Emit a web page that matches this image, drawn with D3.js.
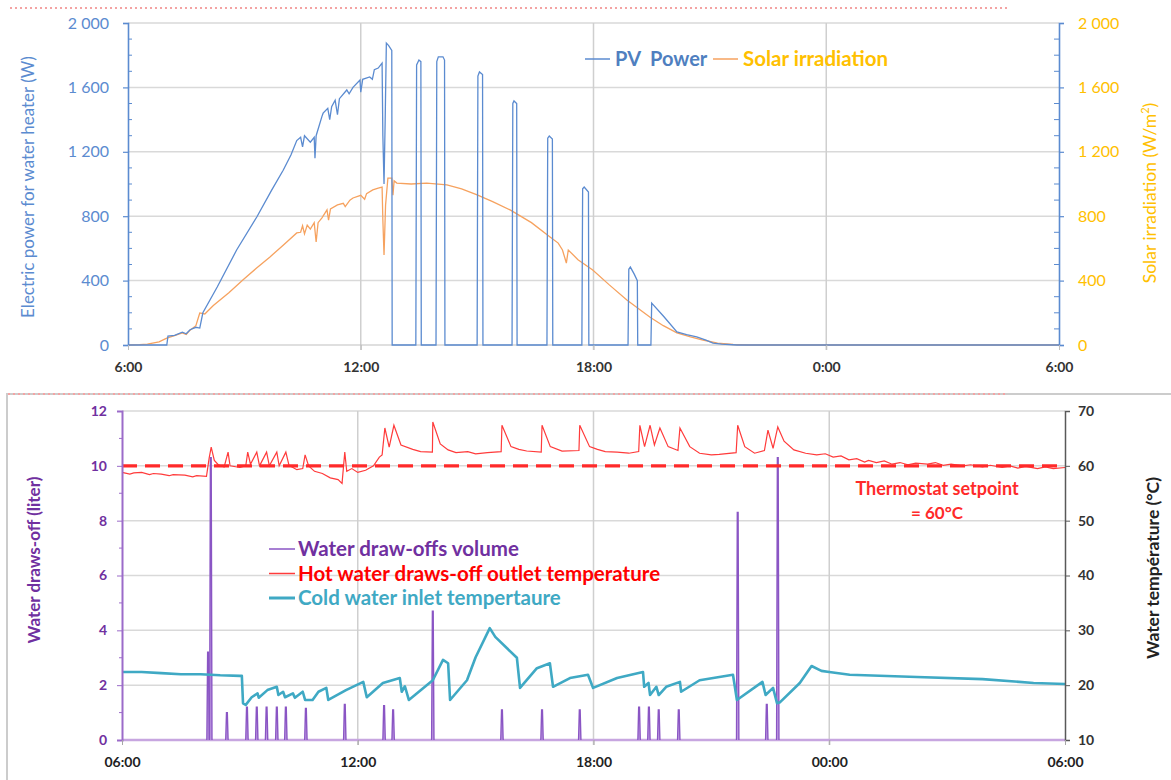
<!DOCTYPE html>
<html>
<head>
<meta charset="utf-8">
<script src="https://cdn.jsdelivr.net/npm/d3@7"></script>
<style>
  body { margin: 0; background: #fff; }
  svg { font-family: Lato, "Liberation Sans", sans-serif; }
</style>
</head>
<body>
<div id="canvas"></div>
<script>
// ---- data (hours from 6:00, next day runs past 24) ----
const pvPower = [
  [6, 0], [7.0, 0], [7.03, 55], [7.2, 60], [7.4, 80], [7.5, 70], [7.6, 95], [7.75, 110], [7.85, 105],
  [7.93, 200], [8.3, 360], [8.8, 590], [9.32, 795], [9.7, 960], [10.0, 1085], [10.2, 1180], [10.35, 1270],
  [10.45, 1290], [10.5, 1230], [10.55, 1300], [10.7, 1260], [10.8, 1290], [10.82, 1160], [10.85, 1300],
  [11.0, 1420], [11.03, 1440], [11.15, 1470], [11.2, 1400], [11.25, 1480], [11.34, 1520], [11.4, 1430],
  [11.45, 1530], [11.64, 1584], [11.7, 1560], [11.8, 1600], [11.98, 1646], [12.0, 1570], [12.05, 1650],
  [12.23, 1665], [12.3, 1650], [12.35, 1710], [12.45, 1720], [12.55, 1751], [12.57, 1300], [12.6, 1000],
  [12.63, 1400], [12.66, 1875], [12.72, 1860], [12.8, 1830], [12.81, 0],
  [13.42, 0], [13.44, 1740], [13.5, 1770], [13.55, 1760], [13.56, 0],
  [13.94, 0], [13.96, 1760], [14.0, 1790], [14.12, 1790], [14.16, 1770], [14.17, 0],
  [15.0, 0], [15.02, 1670], [15.06, 1696], [15.14, 1680], [15.15, 0],
  [15.9, 0], [15.92, 1500], [15.95, 1516], [16.02, 1500], [16.03, 0],
  [16.8, 0], [16.82, 1285], [16.86, 1298], [16.94, 1280], [16.95, 0],
  [17.7, 0], [17.72, 970], [17.76, 981], [17.87, 950], [17.88, 0],
  [18.89, 0], [18.91, 470], [18.95, 484], [19.05, 440], [19.13, 400], [19.14, 0],
  [19.48, 0], [19.5, 260], [19.8, 180], [20.15, 81], [20.4, 65], [20.66, 50], [20.9, 30],
  [21.08, 12], [21.3, 5], [21.7, 0], [30, 0]
];

const solarIrradiation = [
  [6, 0], [6.3, 2], [6.5, 6], [6.8, 20], [7.0, 43], [7.2, 58], [7.4, 75], [7.5, 65], [7.6, 92],
  [7.75, 120], [7.85, 199], [7.98, 193], [8.2, 245], [8.6, 325], [8.96, 404], [9.3, 475], [9.66, 547],
  [10.0, 620], [10.35, 696], [10.45, 700], [10.5, 740], [10.55, 690], [10.62, 745], [10.7, 720],
  [10.8, 760], [10.85, 640], [10.9, 760], [11.0, 790], [11.13, 839], [11.17, 776], [11.22, 845],
  [11.4, 870], [11.55, 880], [11.6, 860], [11.72, 900], [11.8, 913], [12.0, 930], [12.1, 905],
  [12.15, 940], [12.31, 963], [12.45, 975], [12.55, 981], [12.57, 776], [12.6, 559], [12.64, 870],
  [12.7, 1037], [12.8, 1037], [12.83, 930], [12.86, 1020], [12.93, 1006], [13.3, 1000], [13.7, 1006],
  [14.22, 994], [14.6, 970], [15.0, 932], [15.4, 890], [15.85, 839], [16.4, 760], [16.88, 671],
  [17.09, 633], [17.2, 590], [17.3, 509], [17.35, 590], [17.6, 530], [17.98, 466], [18.4, 375],
  [18.86, 280], [19.45, 174], [19.8, 120], [20.15, 75], [20.5, 50], [20.82, 31], [21.2, 12],
  [21.6, 3], [22, 0], [30, 0]
];

const drawOffVolume = [
  [8.19, 3.2], [8.26, 10.3], [8.67, 1.0], [9.18, 1.2], [9.43, 1.2], [9.68, 1.2], [9.94, 1.2],
  [10.17, 1.2], [10.68, 1.15], [11.67, 1.3], [12.67, 1.25], [12.9, 1.1], [13.91, 4.7], [15.67, 1.1],
  [16.69, 1.1], [17.65, 1.1], [19.16, 1.2], [19.41, 1.2], [19.66, 1.1], [20.17, 1.1], [21.67, 8.3],
  [22.41, 1.3], [22.69, 10.3]
];

const hotWaterTemp = [
  [6, 58.8], [6.2, 58.5], [6.3, 58.7], [6.5, 58.8], [6.7, 58.4], [6.8, 58.6], [7.0, 58.5], [7.2, 58.2],
  [7.3, 58.4], [7.6, 58.3], [7.8, 58.0], [7.9, 58.2], [8.15, 58.1], [8.22, 61.5], [8.27, 63.4],
  [8.35, 61.0], [8.45, 60.2], [8.6, 59.8], [8.7, 62.5], [8.75, 60.0], [9.0, 59.7], [9.15, 60.0],
  [9.2, 62.5], [9.27, 60.3], [9.43, 62.5], [9.5, 60.0], [9.68, 62.5], [9.75, 60.0], [9.94, 62.5],
  [10.0, 60.0], [10.17, 62.5], [10.25, 60.1], [10.45, 59.3], [10.6, 59.5], [10.66, 62.0], [10.75, 60.0],
  [10.9, 59.0], [11.1, 58.6], [11.3, 57.8], [11.5, 57.5], [11.6, 56.8], [11.67, 62.5], [11.72, 59.0],
  [11.85, 59.5], [12.0, 58.8], [12.2, 59.2], [12.4, 60.0], [12.55, 61.6], [12.62, 62.0], [12.69, 66.9],
  [12.8, 63.4], [12.92, 67.4], [13.1, 63.8], [13.4, 63.0], [13.6, 62.6], [13.9, 62.5], [13.91, 68.0],
  [14.1, 64.0], [14.3, 62.9], [14.5, 62.4], [14.8, 62.6], [15.0, 62.2], [15.3, 62.4], [15.65, 62.6],
  [15.67, 67.4], [15.9, 63.5], [16.1, 63.0], [16.3, 62.7], [16.67, 62.5], [16.69, 67.4], [16.9, 63.5],
  [17.2, 62.7], [17.63, 62.8], [17.65, 67.4], [17.9, 63.5], [18.1, 63.0], [18.3, 62.6], [18.6, 62.5],
  [18.9, 62.3], [19.15, 62.6], [19.18, 67.4], [19.3, 63.5], [19.44, 67.4], [19.55, 63.8], [19.69, 66.9],
  [19.9, 63.5], [20.15, 62.8], [20.2, 66.9], [20.45, 63.5], [20.7, 62.3], [21.0, 62.0], [21.2, 62.1],
  [21.63, 62.4], [21.67, 67.4], [21.85, 63.5], [22.1, 62.3], [22.35, 62.8], [22.44, 66.5], [22.57, 63.2],
  [22.69, 67.1], [22.85, 64.5], [23.1, 62.9], [23.4, 62.3], [23.68, 62.0], [23.9, 62.2], [24.1, 61.6],
  [24.3, 61.8], [24.5, 61.1], [24.7, 61.3], [24.9, 60.7], [25.0, 61.0], [25.2, 60.6], [25.4, 60.9],
  [25.6, 60.3], [25.8, 60.6], [26.0, 60.2], [26.2, 60.5], [26.5, 60.3], [26.7, 60.6], [26.9, 60.1],
  [27.1, 60.3], [27.4, 60.0], [27.6, 60.2], [27.9, 59.8], [28.1, 60.1], [28.4, 59.7], [28.6, 60.0],
  [28.8, 59.6], [29.0, 59.9], [29.3, 59.5], [29.5, 59.8], [29.7, 59.5], [30, 59.7]
];

const coldWaterTemp = [
  [6, 22.4], [6.5, 22.4], [7.0, 22.2], [7.5, 22.0], [8.0, 22.0], [8.5, 21.8], [9.0, 21.7], [9.05, 21.7],
  [9.08, 16.7], [9.15, 16.4], [9.3, 17.8], [9.45, 18.5], [9.48, 17.7], [9.7, 19.1], [9.94, 19.7],
  [9.98, 18.2], [10.1, 18.8], [10.15, 17.8], [10.35, 18.5], [10.4, 17.7], [10.6, 18.8], [10.66, 17.3],
  [10.85, 17.3], [11.0, 18.8], [11.2, 19.5], [11.25, 17.3], [11.7, 19.1], [12.14, 20.6], [12.23, 17.8],
  [12.64, 20.4], [13.07, 21.3], [13.12, 18.8], [13.2, 19.8], [13.3, 17.3], [13.91, 20.9], [14.17, 24.6],
  [14.3, 24.0], [14.35, 17.3], [14.78, 20.9], [15.0, 25.1], [15.36, 30.4], [15.5, 28.8], [16.05, 25.0],
  [16.13, 19.5], [16.56, 23.1], [16.89, 24.0], [16.97, 19.7], [17.4, 21.3], [17.86, 21.9], [17.99, 19.5],
  [18.6, 21.3], [19.26, 22.4], [19.29, 19.7], [19.4, 20.4], [19.44, 18.2], [19.6, 19.7], [19.66, 18.2],
  [19.85, 19.7], [20.2, 20.6], [20.23, 18.8], [20.7, 20.9], [21.55, 21.9], [21.65, 17.3], [22.3, 20.6],
  [22.38, 18.2], [22.57, 19.5], [22.67, 16.7], [22.75, 16.9], [23.25, 20.4], [23.55, 23.5], [23.8, 22.6],
  [24.0, 22.4], [24.52, 21.9], [26.23, 21.5], [27.9, 21.1], [29.2, 20.4], [30, 20.2]
];

const thermostatSetpoint = 60;
const timeTicks = [6, 12, 18, 24, 30];
const topTimeLabels = ["6:00", "12:00", "18:00", "0:00", "6:00"];
const bottomTimeLabels = ["06:00", "12:00", "18:00", "00:00", "06:00"];
const powerTicks = [0, 400, 800, 1200, 1600, 2000];
const volumeTicks = [0, 2, 4, 6, 8, 10, 12];
const tempTicks = [10, 20, 30, 40, 50, 60, 70];

// ---- colours ----
const blue = "#5B8BD0";
const orange = "#F6A25F";
const gold = "#FFC000";
const purple = "#7030A0";
const red = "#FF2A2A";
const teal = "#3FA9C4";
const grid = "#D9D9D9";

const svg = d3.select("#canvas").append("svg").attr("width", 1171).attr("height", 780);

const spaced = d3.formatLocale({ decimal: ".", thousands: " ", grouping: [3], currency: ["", ""] }).format(",");

// ===================== TOP CHART =====================
const xTop = d3.scaleLinear().domain([6, 30]).range([128, 1059]);
const yPower = d3.scaleLinear().domain([0, 2000]).range([345, 23]);
const yIrr = d3.scaleLinear().domain([0, 2000]).range([345, 23]);

svg.append("line")
  .attr("x1", 10).attr("x2", 1008).attr("y1", 8).attr("y2", 8)
  .attr("stroke", "#F4A3A3").attr("stroke-width", 2).attr("stroke-dasharray", "2,3");

const topChart = svg.append("g");

topChart.selectAll(".hgrid").data(powerTicks.filter(d => d > 0)).enter().append("line")
  .attr("x1", xTop(6)).attr("x2", xTop(30))
  .attr("y1", d => yPower(d)).attr("y2", d => yPower(d))
  .attr("stroke", grid).attr("stroke-width", 1.5);
topChart.selectAll(".vgrid").data([12, 18, 24]).enter().append("line")
  .attr("x1", d => xTop(d)).attr("x2", d => xTop(d))
  .attr("y1", yPower(2000)).attr("y2", yPower(0) + 5)
  .attr("stroke", "#CFCFCF").attr("stroke-width", 1.5);
topChart.append("line")
  .attr("x1", xTop(6)).attr("x2", xTop(30)).attr("y1", yPower(0)).attr("y2", yPower(0))
  .attr("stroke", "#BFBFBF").attr("stroke-width", 1.2);

const lineTop = (y) => d3.line().x(d => xTop(d[0])).y(d => y(d[1]));

topChart.append("path").datum(solarIrradiation)
  .attr("d", lineTop(yIrr)).attr("fill", "none")
  .attr("stroke", orange).attr("stroke-width", 1.3);
topChart.append("path").datum(pvPower)
  .attr("d", lineTop(yPower)).attr("fill", "none")
  .attr("stroke", blue).attr("stroke-width", 1.3);

// axes
const leftTop = topChart.append("g").attr("transform", `translate(${xTop(6)},0)`)
  .call(d3.axisLeft(yPower).tickValues(powerTicks).tickSize(5).tickPadding(14).tickFormat(spaced));
const rightTop = topChart.append("g").attr("transform", `translate(${xTop(30)},0)`)
  .call(d3.axisRight(yIrr).tickValues(powerTicks).tickSize(5).tickPadding(14).tickFormat(spaced));
[leftTop, rightTop].forEach(g => {
  g.select(".domain").attr("stroke", blue).attr("stroke-width", 1.6);
  g.selectAll(".tick line").attr("stroke", blue).attr("stroke-width", 1.2);
  g.selectAll("text").attr("font-size", 16).attr("font-family", "Lato, sans-serif");
});
leftTop.selectAll("text").attr("fill", blue);
rightTop.selectAll("text").attr("fill", gold).attr("text-anchor", "start");

const minorPower = d3.range(100, 2000, 100).filter(d => d % 400 !== 0);
topChart.selectAll(".mtl").data(minorPower).enter().append("line")
  .attr("x1", xTop(6)).attr("x2", xTop(6) + 4)
  .attr("y1", d => yPower(d)).attr("y2", d => yPower(d))
  .attr("stroke", blue).attr("stroke-width", 1);
topChart.selectAll(".mtr").data(minorPower).enter().append("line")
  .attr("x1", xTop(30) - 5).attr("x2", xTop(30))
  .attr("y1", d => yIrr(d)).attr("y2", d => yIrr(d))
  .attr("stroke", blue).attr("stroke-width", 1);

const xAxisTop = topChart.append("g").attr("transform", `translate(0,${yPower(0)})`)
  .call(d3.axisBottom(xTop).tickValues(timeTicks).tickSize(5).tickPadding(12)
    .tickFormat((d, i) => topTimeLabels[i]));
xAxisTop.select(".domain").remove();
xAxisTop.selectAll(".tick line").attr("stroke", "#BFBFBF");
xAxisTop.selectAll("text").attr("font-size", 14).attr("font-weight", "bold")
  .attr("fill", "#333").attr("font-family", "Lato, sans-serif");

// titles
topChart.append("text")
  .attr("transform", "translate(34,187) rotate(-90)")
  .attr("text-anchor", "middle").attr("fill", blue).attr("font-size", 17)
  .text("Electric power for water heater (W)");
const irrTitle = topChart.append("text")
  .attr("transform", "translate(1156,193) rotate(-90)")
  .attr("text-anchor", "middle").attr("fill", gold).attr("font-size", 17.5);
irrTitle.append("tspan").text("Solar irradiation (W/m");
irrTitle.append("tspan").attr("font-size", 11).attr("dy", -7).text("2");
irrTitle.append("tspan").attr("dy", 7).text(")");

// legend
const legTop = topChart.append("g").attr("transform", "translate(585,59)");
legTop.append("line").attr("x1", 0).attr("x2", 25).attr("stroke", blue).attr("stroke-width", 1.5);
legTop.append("text").attr("x", 30).attr("dy", "0.36em").attr("fill", "#4F7FC0")
  .attr("font-size", 20).attr("font-weight", "bold").style("white-space", "pre").text("PV  Power");
legTop.append("line").attr("x1", 128).attr("x2", 153).attr("stroke", orange).attr("stroke-width", 1.5);
legTop.append("text").attr("x", 158).attr("dy", "0.36em").attr("fill", gold)
  .attr("font-size", 20.5).attr("font-weight", "bold").text("Solar irradiation");

// ===================== BOTTOM CHART =====================
const xBot = d3.scaleLinear().domain([6, 30]).range([122, 1065]);
const yVol = d3.scaleLinear().domain([0, 12]).range([740, 411]);
const yTemp = d3.scaleLinear().domain([10, 70]).range([740, 411]);

// panel frame
svg.append("path").attr("d", "M7,781 L7,394 L1171,394")
  .attr("fill", "none").attr("stroke", "#CCCCCC").attr("stroke-width", 2);
svg.append("line")
  .attr("x1", 8).attr("x2", 1008).attr("y1", 394).attr("y2", 394)
  .attr("stroke", "#F4A3A3").attr("stroke-width", 2).attr("stroke-dasharray", "2,3");

const bot = svg.append("g");

bot.selectAll(".hgrid").data(volumeTicks.filter(d => d > 0)).enter().append("line")
  .attr("x1", xBot(6)).attr("x2", xBot(30))
  .attr("y1", d => yVol(d)).attr("y2", d => yVol(d))
  .attr("stroke", grid).attr("stroke-width", 1.5);
bot.selectAll(".vgrid").data([12, 18, 24]).enter().append("line")
  .attr("x1", d => xBot(d)).attr("x2", d => xBot(d))
  .attr("y1", yVol(12)).attr("y2", yVol(0) + 5)
  .attr("stroke", "#CFCFCF").attr("stroke-width", 1.5);

// draw-offs: baseline + narrow spikes
bot.append("line")
  .attr("x1", xBot(6)).attr("x2", xBot(30)).attr("y1", yVol(0)).attr("y2", yVol(0))
  .attr("stroke", "#C7A6E0").attr("stroke-width", 2.5);
const spike = d3.line().x(d => xBot(d[0])).y(d => yVol(d[1]));
bot.selectAll(".spike").data(drawOffVolume).enter().append("path")
  .attr("d", d => spike([[d[0] - 0.03, 0], [d[0] - 0.01, d[1]], [d[0] + 0.01, d[1]], [d[0] + 0.03, 0]]))
  .attr("fill", "#C9A9E6").attr("stroke", "#8A55C4").attr("stroke-width", 1.4);

const lineBot = d3.line().x(d => xBot(d[0])).y(d => yTemp(d[1]));
bot.append("path").datum(hotWaterTemp)
  .attr("d", lineBot).attr("fill", "none")
  .attr("stroke", "#FF3B3B").attr("stroke-width", 1.2);
bot.append("path").datum(coldWaterTemp)
  .attr("d", lineBot).attr("fill", "none")
  .attr("stroke", teal).attr("stroke-width", 2.6).attr("stroke-linejoin", "round");

bot.append("line")
  .attr("x1", xBot(6)).attr("x2", xBot(30))
  .attr("y1", yTemp(thermostatSetpoint)).attr("y2", yTemp(thermostatSetpoint))
  .attr("stroke", red).attr("stroke-width", 3.2).attr("stroke-dasharray", "15,8");

// axes
const leftBot = bot.append("g").attr("transform", `translate(${xBot(6)},0)`)
  .call(d3.axisLeft(yVol).tickValues(volumeTicks).tickSize(5).tickPadding(10));
leftBot.select(".domain").attr("stroke", "#9B6BC9").attr("stroke-width", 2);
leftBot.selectAll(".tick line").attr("stroke", "#9B6BC9");
leftBot.selectAll("text").attr("fill", purple).attr("font-size", 14).attr("font-weight", "bold")
  .attr("font-family", "Lato, sans-serif");
bot.selectAll(".mvl").data(d3.range(1, 12, 2)).enter().append("line")
  .attr("x1", xBot(6) - 3).attr("x2", xBot(6))
  .attr("y1", d => yVol(d)).attr("y2", d => yVol(d))
  .attr("stroke", "#9B6BC9");

const rightBot = bot.append("g").attr("transform", `translate(${xBot(30)},0)`)
  .call(d3.axisRight(yTemp).tickValues(tempTicks).tickSize(5).tickPadding(8));
rightBot.select(".domain").attr("stroke", "#595959").attr("stroke-width", 1.5);
rightBot.selectAll(".tick line").attr("stroke", "#595959");
rightBot.selectAll("text").attr("fill", "#333").attr("font-size", 14).attr("font-weight", "bold")
  .attr("font-family", "Lato, sans-serif");

const xAxisBot = bot.append("g").attr("transform", `translate(0,${yVol(0)})`)
  .call(d3.axisBottom(xBot).tickValues(timeTicks).tickSize(5).tickPadding(12)
    .tickFormat((d, i) => bottomTimeLabels[i]));
xAxisBot.select(".domain").remove();
xAxisBot.selectAll(".tick line").attr("stroke", "#A6A6A6");
xAxisBot.selectAll("text").attr("font-size", 14).attr("font-weight", "bold")
  .attr("fill", "#222").attr("font-family", "Lato, sans-serif");

// titles
bot.append("text")
  .attr("transform", "translate(34,560) rotate(-90)")
  .attr("text-anchor", "middle").attr("dy", "0.35em").attr("fill", purple)
  .attr("font-size", 17).attr("font-weight", "bold").text("Water draws-off (liter)");
bot.append("text")
  .attr("transform", "translate(1153,568) rotate(-90)")
  .attr("text-anchor", "middle").attr("dy", "0.35em").attr("fill", "#222")
  .attr("font-size", 17.5).attr("font-weight", "bold").text("Water température (°C)");

// setpoint annotation
const note = bot.append("g").attr("fill", red).attr("font-weight", "bold")
  .attr("text-anchor", "middle");
note.append("text").attr("x", 937).attr("y", 495).attr("font-size", 18).text("Thermostat setpoint");
note.append("text").attr("x", 937).attr("y", 519).attr("font-size", 17).text("= 60°C");

// legend
const legendItems = [
  { label: "Water draw-offs volume", color: "#8A55C4", text: purple, width: 1.5 },
  { label: "Hot water draws-off outlet temperature", color: "#FF3B3B", text: "#FF0000", width: 1.5 },
  { label: "Cold water inlet tempertaure", color: teal, text: teal, width: 3 }
];
const legBot = bot.append("g").attr("transform", "translate(269,549)");
const legRows = legBot.selectAll("g").data(legendItems).enter().append("g")
  .attr("transform", (d, i) => `translate(0,${i * 24.5})`);
legRows.append("line").attr("x1", 0).attr("x2", 26)
  .attr("stroke", d => d.color).attr("stroke-width", d => d.width);
legRows.append("text").attr("x", 29).attr("dy", "0.36em")
  .attr("fill", d => d.text).attr("font-size", 20.5).attr("font-weight", "bold")
  .text(d => d.label);
</script>
</body>
</html>
